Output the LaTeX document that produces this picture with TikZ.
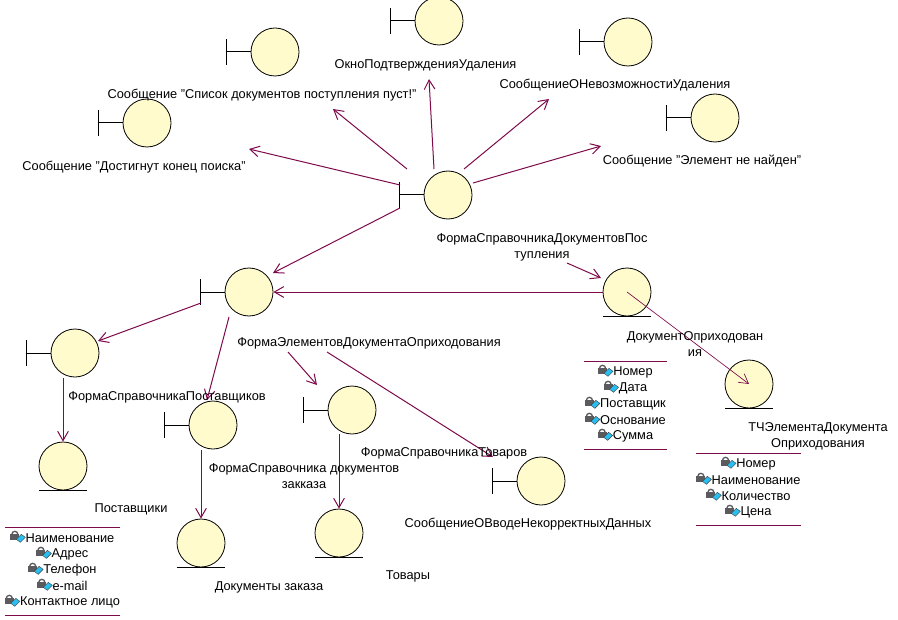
\documentclass[tikz,border=0pt]{standalone}
\usepackage{fontspec}
\setmainfont{Liberation Sans}
\usetikzlibrary{arrows.meta}
\definecolor{fCream}{RGB}{255,251,204}
\definecolor{dWine}{RGB}{125,10,75}
\definecolor{dLock}{RGB}{90,90,95}
\definecolor{fKey}{RGB}{40,190,240}
\begin{document}
\begin{tikzpicture}[x=0.75pt,y=-0.75pt,
  cl/.style={draw=black,fill=fCream,circle,line width=0.6pt,minimum size=36pt,inner sep=0pt},
  tx/.style={align=center,font=\fontsize{9.6}{12}\selectfont,inner sep=0pt,yshift=-1pt},
  ar/.style={-{Straight Barb[length=7pt,width=8pt]},line width=0.75pt,dWine},
  ln/.style={line width=0.75pt,dWine},
  ink/.style={line width=0.75pt,black},
  lockkey/.pic={
    \draw[dLock,line width=1pt] (-13.5,-4) arc[start angle=180,end angle=360,radius=3];
    \fill[dLock] (-15,-4) rectangle (-6,2);
    \fill[fKey,draw=black!75,line width=0.3pt] (-9,1) -- (-4,-4) -- (0,-1) -- (-5,4) -- cycle;
  }]
\useasboundingbox (0,0) rectangle (898,620);
% boundary objects
\node[cl] (listEmpty) at (275,52) {};
\node[cl] (confirm) at (439,21) {};
\node[cl] (noDelete) at (628,42) {};
\node[cl] (notFound) at (715,118) {};
\node[cl] (endSearch) at (147,123) {};
\node[cl] (main) at (448,195) {};
\node[cl] (items) at (249,292) {};
\node[cl] (suppForm) at (75,353) {};
\node[cl] (orderForm) at (213,425) {};
\node[cl] (goodsForm) at (352,410) {};
\node[cl] (badInput) at (541,481) {};
\foreach \x in {listEmpty,confirm,noDelete,notFound,endSearch,main,items,suppForm,orderForm,goodsForm,badInput}
  \draw[ink] (\x.west) -- ++(-24,0) ++(0,-13) -- ++(0,26);
% entity objects
\node[cl] (supp) at (63,466) {};
\node[cl] (order) at (201,543) {};
\node[cl] (goods) at (339,533) {};
\node[cl] (doc) at (627,292) {};
\node[cl] (docRow) at (749,384) {};
\foreach \x in {supp,order,goods,doc,docRow}
  \draw[ink] (\x.south) ++(-24,0) -- ++(48,0);
% free ends of the links
\coordinate (mainA) at (400,185);
\coordinate (mainB) at (407,169);
\coordinate (mainC) at (434,169);
\coordinate (mainD) at (464,169);
\coordinate (mainE) at (473,183);
\coordinate (mainF) at (400,208);
\coordinate (mainG) at (567,263);
\coordinate (itemsA) at (201,303);
\coordinate (itemsB) at (229,317);
\coordinate (itemsC) at (288,352);
\coordinate (itemsD) at (327,352);
\coordinate (suppFormA) at (63,378);
\coordinate (orderFormA) at (201,450);
\coordinate (goodsFormA) at (339,434);
\coordinate (endSearchT) at (249,149);
\coordinate (listEmptyT) at (333,109);
\coordinate (confirmT) at (429,79);
\coordinate (noDeleteT) at (549,99);
\coordinate (notFoundT) at (601,146);
\coordinate (itemsT) at (273,273);
\coordinate (docT) at (601,278);
\coordinate (suppFormT) at (98,341);
\coordinate (orderFormT) at (207,400);
\coordinate (goodsFormT) at (317,385);
\coordinate (badInputT) at (493,457);
\foreach \x/\y in {mainA/endSearchT,mainB/listEmptyT,mainC/confirmT,mainD/noDeleteT,mainE/notFoundT,mainF/itemsT,mainG/docT,doc.west/items.east,itemsA/suppFormT,itemsB/orderFormT,itemsC/goodsFormT,itemsD/badInputT,suppFormA/supp.north,orderFormA/order.north,goodsFormA/goods.north}
  \draw[ar] (\x) -- (\y);
\draw[ar,line width=0.5pt] (doc.center) -- (docRow.center);
% labels
\node[tx] (endSearchL) at (134,166) {Сообщение "Достигнут конец поиска"};
\node[tx] (listEmptyL) at (262,94) {Сообщение "Список документов поступления пуст!"};
\node[tx] (confirmL) at (425.5,64) {ОкноПодтвержденияУдаления};
\node[tx] (noDeleteL) at (615,84) {СообщениеОНевозможностиУдаления};
\node[tx] (notFoundL) at (702,160) {Сообщение "Элемент не найден"};
\node[tx] (mainL) at (542,246) {ФормаСправочникаДокументовПос\\тупления};
\node[tx] (itemsL) at (369,342) {ФормаЭлементовДокументаОприходования};
\node[tx] (docL) at (695,343) {ДокументОприходован\\ия};
\node[tx] (suppFormL) at (167,396) {ФормаСправочникаПоставщиков};
\node[tx] (orderFormL) at (304,475) {ФормаСправочника документов\\закказа};
\node[tx] (goodsFormL) at (444,452) {ФормаСправочникаТоваров};
\node[tx] (badInputL) at (528,523) {СообщениеОВводеНекорректныхДанных};
\node[tx] (suppL) at (131,508) {Поставщики};
\node[tx] (orderL) at (269,586) {Документы заказа};
\node[tx] (goodsL) at (408,575) {Товары};
\node[tx] (docRowL) at (818,435) {ТЧЭлементаДокумента\\Оприходования};
% attribute lists
\draw[ln] (5,527) -- (120,527);
\draw[ln] (5,615) -- (120,615);
\draw[ln] (584,361) -- (667,361);
\draw[ln] (584,449) -- (667,449);
\draw[ln] (696,453) -- (801,453);
\draw[ln] (696,525) -- (801,525);
\foreach \n/\t/\y in {sA/Наименование/537,sB/Адрес/553,sC/Телефон/569,sD/e-mail/585,sE/Контактное лицо/601}{
  \node[tx] (\n) at (70,\y) {\t};
  \pic at (\n.west) {lockkey};
}
\foreach \n/\t/\y in {dA/Номер/371,dB/Дата/387,dC/Поставщик/403,dD/Основание/419,dE/Сумма/435}{
  \node[tx] (\n) at (633,\y) {\t};
  \pic at (\n.west) {lockkey};
}
\foreach \n/\t/\y in {rA/Номер/463,rB/Наименование/479,rC/Количество/495,rD/Цена/511}{
  \node[tx] (\n) at (756,\y) {\t};
  \pic at (\n.west) {lockkey};
}
\end{tikzpicture}
\end{document}
